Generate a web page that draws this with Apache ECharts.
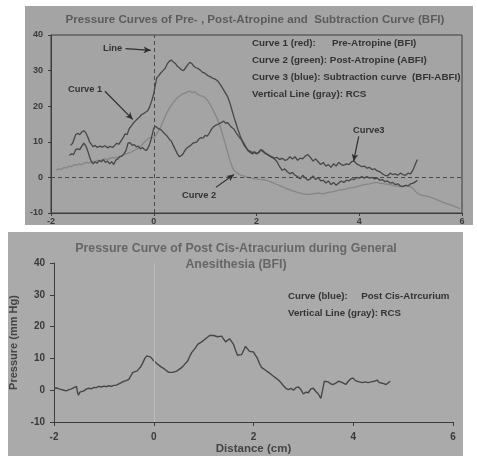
<!DOCTYPE html>
<html><head><meta charset="utf-8">
<script src="https://cdn.jsdelivr.net/npm/echarts@6/dist/echarts.min.js"></script>
<style>html,body{margin:0;padding:0;background:#fff}#c{width:477px;height:456px}</style>
</head><body><div id="c"></div>
<script>
// ---- Top chart data (x in cm, y in mmHg) ----
const xTicks = [-2, 0, 2, 4, 6];
const yTicks = [-10, 0, 10, 20, 30, 40];
const curve1 = [[-1.62,9.0],[-1.58,9.6],[-1.55,9.2],[-1.52,12.0],[-1.48,12.4],[-1.44,12.0],[-1.40,12.8],[-1.36,13.1],[-1.32,12.5],[-1.28,11.2],[-1.25,10.0],[-1.22,9.4],[-1.18,8.6],[-1.14,9.0],[-1.10,8.4],[-1.05,8.8],[-1.0,8.5],[-0.95,8.9],[-0.9,8.3],[-0.85,8.7],[-0.8,8.4],[-0.76,9.0],[-0.72,9.6],[-0.68,9.3],[-0.64,10.2],[-0.6,11.0],[-0.56,12.2],[-0.52,12.0],[-0.48,13.6],[-0.44,14.4],[-0.4,15.2],[-0.36,15.8],[-0.32,16.4],[-0.28,16.9],[-0.24,17.6],[-0.2,17.9],[-0.16,18.3],[-0.12,18.7],[-0.08,19.8],[-0.04,21.5],[0,23.5],[0.03,26.0],[0.06,28.0],[0.1,28.6],[0.14,29.4],[0.18,30.0],[0.22,30.6],[0.26,31.8],[0.3,32.6],[0.34,33.0],[0.38,32.4],[0.42,32.0],[0.46,31.2],[0.5,30.8],[0.54,30.2],[0.58,30.0],[0.62,30.8],[0.66,31.6],[0.7,32.3],[0.74,32.0],[0.78,31.2],[0.82,30.8],[0.86,30.6],[0.9,30.2],[0.95,29.5],[1.0,29.2],[1.05,28.6],[1.1,28.3],[1.15,27.8],[1.2,27.6],[1.25,27.0],[1.3,26.0],[1.35,24.8],[1.4,23.6],[1.44,22.6],[1.48,21.0],[1.52,19.0],[1.56,17.0],[1.6,15.2],[1.64,13.4],[1.68,11.8],[1.72,10.2],[1.76,9.0],[1.8,8.2],[1.84,7.6],[1.88,7.3],[1.92,7.0],[1.96,7.2],[2.0,6.8],[2.04,6.9],[2.08,7.6],[2.12,7.4],[2.16,6.8],[2.2,6.5],[2.25,6.0],[2.3,5.6],[2.35,5.2],[2.4,4.4],[2.45,3.0],[2.5,2.0],[2.55,2.4],[2.6,1.6],[2.65,1.0],[2.7,1.4],[2.75,0.6],[2.8,0.2],[2.85,-0.4],[2.9,0.6],[2.95,-0.2],[3.0,-0.8],[3.05,-0.4],[3.1,0.4],[3.15,-0.6],[3.2,0.0],[3.25,-1.0],[3.3,-0.8],[3.35,-1.6],[3.4,-1.0],[3.45,-2.0],[3.5,-1.4],[3.55,-2.2],[3.6,-1.6],[3.65,-1.0],[3.7,-1.4],[3.75,-0.8],[3.8,-1.0],[3.85,-0.4],[3.9,-0.6],[3.95,0.0],[4.0,-0.2],[4.05,0.2],[4.1,-0.2],[4.15,0.2],[4.2,-0.2],[4.25,0.0],[4.3,-0.4],[4.35,-0.2],[4.4,-0.8],[4.45,-0.6],[4.5,-1.2],[4.55,-1.0],[4.6,-1.6],[4.65,-1.4],[4.7,-2.0],[4.75,-1.8],[4.8,-2.4],[4.85,-2.6],[4.9,-2.2],[4.95,-2.4],[5.0,-1.8],[5.05,-1.6],[5.1,-1.2],[5.13,-0.8]];
const curve2 = [[-1.9,2.0],[-1.85,2.4],[-1.8,2.2],[-1.75,2.8],[-1.7,2.6],[-1.65,3.2],[-1.6,3.0],[-1.55,3.6],[-1.5,3.4],[-1.45,3.8],[-1.4,3.6],[-1.35,4.0],[-1.3,4.2],[-1.25,4.0],[-1.2,4.6],[-1.15,4.4],[-1.1,4.8],[-1.05,4.6],[-1.0,5.0],[-0.95,5.2],[-0.9,5.0],[-0.85,5.4],[-0.8,5.6],[-0.75,5.4],[-0.7,5.8],[-0.65,6.0],[-0.6,6.2],[-0.55,6.6],[-0.5,6.8],[-0.45,7.0],[-0.4,7.4],[-0.35,7.8],[-0.3,8.2],[-0.25,8.8],[-0.2,9.6],[-0.15,10.4],[-0.1,11.0],[-0.05,11.2],[0,11.0],[0.05,12.0],[0.1,13.2],[0.15,14.6],[0.2,16.4],[0.25,18.0],[0.3,19.4],[0.35,20.4],[0.4,21.4],[0.45,22.2],[0.5,22.8],[0.55,23.4],[0.6,23.6],[0.65,24.0],[0.7,24.2],[0.75,23.8],[0.8,24.0],[0.85,23.4],[0.9,23.0],[0.95,22.8],[1.0,22.4],[1.05,21.6],[1.1,20.4],[1.15,19.0],[1.2,17.6],[1.25,16.0],[1.3,14.0],[1.35,11.6],[1.4,9.0],[1.45,6.4],[1.5,4.0],[1.55,2.2],[1.6,1.4],[1.65,1.0],[1.7,0.6],[1.75,0.4],[1.8,0.2],[1.85,0.0],[1.9,-0.2],[1.95,-0.4],[2.0,-0.4],[2.1,-0.6],[2.2,-0.8],[2.3,-1.4],[2.4,-2.0],[2.5,-2.6],[2.6,-3.2],[2.7,-3.8],[2.8,-4.2],[2.9,-4.6],[3.0,-4.8],[3.1,-4.6],[3.2,-4.4],[3.3,-4.6],[3.4,-4.2],[3.5,-4.0],[3.6,-3.6],[3.7,-3.4],[3.8,-3.0],[3.9,-2.8],[4.0,-2.4],[4.1,-2.0],[4.2,-1.8],[4.3,-1.4],[4.4,-1.6],[4.5,-1.8],[4.6,-2.0],[4.7,-2.4],[4.8,-2.6],[4.9,-2.4],[5.0,-2.6],[5.05,-3.2],[5.1,-4.0],[5.15,-4.6],[5.2,-5.0],[5.3,-5.2],[5.4,-5.6],[5.5,-6.2],[5.6,-6.8],[5.7,-7.4],[5.8,-7.8],[5.9,-8.4],[5.96,-8.8]];
const curve3 = [[-1.64,6.2],[-1.6,6.6],[-1.56,6.4],[-1.52,7.8],[-1.48,8.0],[-1.44,7.8],[-1.4,8.8],[-1.36,9.6],[-1.32,8.8],[-1.28,7.2],[-1.25,5.8],[-1.22,4.6],[-1.18,3.8],[-1.14,4.4],[-1.1,4.0],[-1.06,4.8],[-1.02,4.4],[-0.98,5.0],[-0.94,4.2],[-0.9,4.6],[-0.86,3.8],[-0.82,4.4],[-0.78,3.6],[-0.74,4.8],[-0.7,5.2],[-0.66,5.8],[-0.62,6.0],[-0.58,6.6],[-0.54,7.6],[-0.5,9.6],[-0.46,9.8],[-0.42,9.0],[-0.38,9.2],[-0.34,8.6],[-0.3,8.8],[-0.26,8.0],[-0.22,8.4],[-0.18,7.8],[-0.14,7.6],[-0.1,8.6],[-0.06,10.2],[-0.03,12.0],[0,13.8],[0.03,14.4],[0.06,14.0],[0.1,13.6],[0.14,13.4],[0.18,12.8],[0.22,12.2],[0.26,11.6],[0.3,10.8],[0.34,10.2],[0.38,9.0],[0.42,7.8],[0.46,6.6],[0.5,5.8],[0.53,5.4],[0.56,6.4],[0.6,7.4],[0.64,8.2],[0.68,8.6],[0.72,9.0],[0.76,9.6],[0.8,9.8],[0.84,10.0],[0.88,10.8],[0.92,11.2],[0.96,11.0],[1.0,11.8],[1.04,11.6],[1.08,12.4],[1.12,13.4],[1.16,14.2],[1.2,14.6],[1.24,14.8],[1.28,15.2],[1.32,15.4],[1.36,15.8],[1.4,15.2],[1.44,15.4],[1.48,14.6],[1.52,14.0],[1.56,13.6],[1.6,12.6],[1.64,11.8],[1.68,11.0],[1.72,10.4],[1.76,9.4],[1.8,8.4],[1.84,7.4],[1.88,7.0],[1.92,6.6],[1.96,7.0],[2.0,6.6],[2.04,7.0],[2.08,7.8],[2.12,7.6],[2.16,7.0],[2.2,6.6],[2.25,6.2],[2.3,5.8],[2.35,5.4],[2.4,5.6],[2.45,5.0],[2.5,5.4],[2.55,4.8],[2.6,5.0],[2.65,5.8],[2.7,5.2],[2.75,5.8],[2.8,4.8],[2.85,5.4],[2.9,5.2],[2.95,6.0],[3.0,6.4],[3.05,5.6],[3.1,4.6],[3.15,5.2],[3.2,4.4],[3.25,3.6],[3.3,4.2],[3.35,3.2],[3.4,3.6],[3.45,2.8],[3.5,3.8],[3.55,3.2],[3.6,4.2],[3.65,3.6],[3.7,3.4],[3.75,3.8],[3.8,3.6],[3.85,4.4],[3.9,4.6],[3.95,3.8],[4.0,3.4],[4.05,3.0],[4.1,3.2],[4.15,2.6],[4.2,2.8],[4.25,2.2],[4.3,2.4],[4.35,1.8],[4.4,1.6],[4.45,1.0],[4.5,0.6],[4.55,0.4],[4.6,1.2],[4.65,0.8],[4.7,1.0],[4.75,0.6],[4.8,1.2],[4.85,0.8],[4.9,0.6],[4.95,1.2],[5.0,1.0],[5.05,2.2],[5.1,4.0],[5.13,5.0]];
// ---- Bottom chart data ----
const postCis = [[-2.0,0.6],[-1.95,0.7],[-1.9,0.4],[-1.85,0.2],[-1.8,0.0],[-1.75,-0.2],[-1.7,0.2],[-1.65,0.4],[-1.6,0.8],[-1.55,1.2],[-1.53,-0.6],[-1.51,-1.6],[-1.48,-0.6],[-1.44,0.0],[-1.4,-0.2],[-1.35,0.4],[-1.3,0.6],[-1.25,0.4],[-1.2,0.9],[-1.15,0.8],[-1.1,1.2],[-1.05,1.0],[-1.0,1.3],[-0.95,1.1],[-0.9,1.4],[-0.85,1.2],[-0.8,1.5],[-0.75,1.6],[-0.7,2.0],[-0.65,2.4],[-0.6,2.8],[-0.55,3.0],[-0.5,3.4],[-0.46,4.0],[-0.42,5.6],[-0.38,6.2],[-0.34,6.0],[-0.3,6.4],[-0.26,7.4],[-0.22,8.6],[-0.18,10.0],[-0.14,10.8],[-0.1,11.0],[-0.06,10.4],[-0.02,9.6],[0.02,9.0],[0.06,8.4],[0.1,7.8],[0.14,7.4],[0.18,7.0],[0.22,6.6],[0.26,6.2],[0.3,5.6],[0.34,5.0],[0.38,5.6],[0.42,6.2],[0.46,6.0],[0.5,6.6],[0.55,7.0],[0.6,7.8],[0.64,8.4],[0.68,9.2],[0.72,10.6],[0.76,11.8],[0.8,12.6],[0.84,13.4],[0.88,14.4],[0.92,14.8],[0.96,15.2],[1.0,15.6],[1.04,16.2],[1.08,16.8],[1.12,17.2],[1.16,17.6],[1.2,17.2],[1.24,17.4],[1.28,16.8],[1.32,17.2],[1.36,17.0],[1.4,16.4],[1.44,15.2],[1.48,15.8],[1.52,16.2],[1.56,15.8],[1.6,14.4],[1.64,12.6],[1.68,11.0],[1.72,10.4],[1.76,11.2],[1.8,12.4],[1.84,13.8],[1.88,13.2],[1.92,12.2],[1.96,11.8],[2.0,12.0],[2.04,11.4],[2.08,10.0],[2.12,8.4],[2.16,7.2],[2.2,6.6],[2.25,6.2],[2.3,5.6],[2.35,5.0],[2.4,4.4],[2.45,3.8],[2.5,3.2],[2.55,2.4],[2.6,1.4],[2.65,0.6],[2.7,0.2],[2.75,0.6],[2.8,0.0],[2.85,0.8],[2.9,1.0],[2.95,0.2],[3.0,-1.2],[3.05,-0.6],[3.1,-0.8],[3.15,0.4],[3.2,0.6],[3.25,-0.4],[3.3,-1.2],[3.35,-2.6],[3.38,-0.4],[3.42,2.8],[3.46,3.4],[3.5,2.6],[3.55,2.0],[3.6,1.8],[3.65,2.2],[3.7,2.8],[3.75,2.6],[3.8,2.2],[3.85,1.8],[3.9,2.8],[3.95,3.6],[4.0,3.8],[4.04,3.0],[4.08,2.4],[4.12,2.6],[4.18,2.4],[4.24,2.6],[4.3,2.4],[4.36,2.6],[4.42,2.8],[4.48,3.2],[4.52,2.4],[4.58,2.2],[4.62,2.8],[4.66,1.8],[4.7,2.2],[4.74,2.8]];
// annotation arrows (data space): [from, to]
const arrowLine = [[-0.55,36.2],[-0.06,35.7]];
const arrowC1 = [[-0.95,24.2],[-0.41,16.3]];
const arrowC2 = [[1.21,-2.8],[1.56,0.8]];
const arrowC3 = [[3.99,11.5],[3.89,4.6]];

const FONT = 'Liberation Sans, Arial, sans-serif';
const dark = '#3a3a3a';
const lineDark = '#474747';

function arrow(a){
  return [{coord:a[0], symbol:'none'},{coord:a[1], symbol:'arrow'}];
}
function txt(t, x, y, size, fill, align){
  return {type:'text', style:{text:t, font:'bold '+size+'px '+FONT, fill:fill||'#333', x:x, y:y, textAlign:align||'left', textVerticalAlign:'middle'}};
}

const chart = echarts.init(document.getElementById('c'), null, {renderer:'canvas'});
const axisLab = {color:dark, fontFamily:FONT, fontWeight:'bold', fontSize:9};
chart.setOption({
  animation:false,
  backgroundColor:'#ffffff',
  graphic:[
    {type:'rect', z:-10, shape:{x:25,y:6,width:448,height:219}, style:{fill:'#a4a4a4'}},
    {type:'rect', z:-10, shape:{x:8,y:232,width:455,height:224}, style:{fill:'#aaaaaa'}},
    txt('Pressure Curves of Pre- , Post-Atropine and  Subtraction Curve (BFI)', 255, 20, 11.6, '#5c5c5c', 'center'),
    txt('Curve 1 (red):      Pre-Atropine (BFI)', 252, 43, 9.8),
    txt('Curve 2 (green): Post-Atropine (ABFI)', 252, 60, 9.8),
    txt('Curve 3 (blue): Subtraction curve  (BFI-ABFI)', 252, 77, 9.8),
    txt('Vertical Line (gray): RCS', 252, 94, 9.8),
    txt('Line', 103, 48, 9.3),
    txt('Curve 1', 68, 89, 9.3),
    txt('Curve 2', 182, 195, 9.3),
    txt('Curve3', 353, 130, 9.3),
    txt('Pressure Curve of Post Cis-Atracurium during General', 236, 249, 12.4, '#666', 'center'),
    txt('Anesithesia (BFI)', 236, 265, 12.4, '#666', 'center'),
    txt('Curve (blue):     Post Cis-Atrcurium', 288, 296, 9.7),
    txt('Vertical Line (gray): RCS', 288, 313, 9.7)
  ],
  grid:[
    {left:51, top:35, width:411, height:178, show:true, borderColor:'#3c3c3c', borderWidth:1, backgroundColor:'transparent'},
    {left:51, top:263, width:402, height:160}
  ],
  xAxis:[
    {gridIndex:0, type:'value', min:-2, max:6, interval:2, axisLine:{onZero:false, lineStyle:{color:'#3c3c3c'}}, axisTick:{length:3, lineStyle:{color:'#3c3c3c'}}, splitLine:{show:false}, axisLabel:Object.assign({margin:4, formatter:v=>xTicks.includes(v)?String(v):''}, axisLab)},
    {gridIndex:1, type:'value', min:-2, max:6, interval:2, name:'Distance (cm)', nameLocation:'middle', nameGap:21, nameTextStyle:{color:'#444', fontFamily:FONT, fontWeight:'bold', fontSize:11.5}, axisLine:{onZero:false, lineStyle:{color:'#3c3c3c'}}, axisTick:{length:4, lineStyle:{color:'#3c3c3c'}}, splitLine:{show:false}, axisLabel:Object.assign({margin:10, formatter:v=>String(v)}, axisLab, {fontSize:10})}
  ],
  yAxis:[
    {gridIndex:0, type:'value', min:-10, max:40, interval:10, axisLine:{show:true, onZero:false, lineStyle:{color:'#3c3c3c'}}, axisTick:{show:true, length:3, lineStyle:{color:'#3c3c3c'}}, splitLine:{show:false}, axisLabel:Object.assign({margin:8, formatter:v=>yTicks.includes(v)?String(v):''}, axisLab)},
    {gridIndex:1, type:'value', min:-10, max:40, interval:10, name:'Pressure (mm Hg)', nameLocation:'middle', nameGap:35, nameRotate:90, nameTextStyle:{color:'#444', fontFamily:FONT, fontWeight:'bold', fontSize:11}, axisLine:{show:true, onZero:false, lineStyle:{color:'#3c3c3c'}}, axisTick:{show:true, length:4, lineStyle:{color:'#3c3c3c'}}, splitLine:{show:false}, axisLabel:Object.assign({margin:9}, axisLab, {fontSize:10})}
  ],
  series:[
    {type:'line', xAxisIndex:0, yAxisIndex:0, data:curve2, showSymbol:false, lineStyle:{color:'#868686', width:1.3}, z:2,
      markLine:{silent:true, symbol:'none', label:{show:false}, data:[
        [{coord:[0,-10]},{coord:[0,40]}],
        [{coord:[-2,0]},{coord:[6,0]}]
      ], lineStyle:{color:'#4a4a4a', width:1, type:[4,3]}}},
    {type:'line', xAxisIndex:0, yAxisIndex:0, data:curve1, showSymbol:false, lineStyle:{color:lineDark, width:1.3}, z:3},
    {type:'line', xAxisIndex:0, yAxisIndex:0, data:curve3, showSymbol:false, lineStyle:{color:lineDark, width:1.3}, z:3,
      markLine:{silent:true, symbolSize:[5,7], label:{show:false}, lineStyle:{color:'#2e2e2e', width:1.2, type:'solid'},
        data:[arrow(arrowLine), arrow(arrowC1), arrow(arrowC2), arrow(arrowC3)]}},
    {type:'line', xAxisIndex:1, yAxisIndex:1, data:postCis, showSymbol:false, lineStyle:{color:lineDark, width:1.4}, z:3,
      markLine:{silent:true, symbol:'none', label:{show:false}, lineStyle:{color:'#bdbdbd', width:1, type:'solid'},
        data:[[{coord:[0,-10]},{coord:[0,40]}]]}}
  ]
});
</script></body></html>
